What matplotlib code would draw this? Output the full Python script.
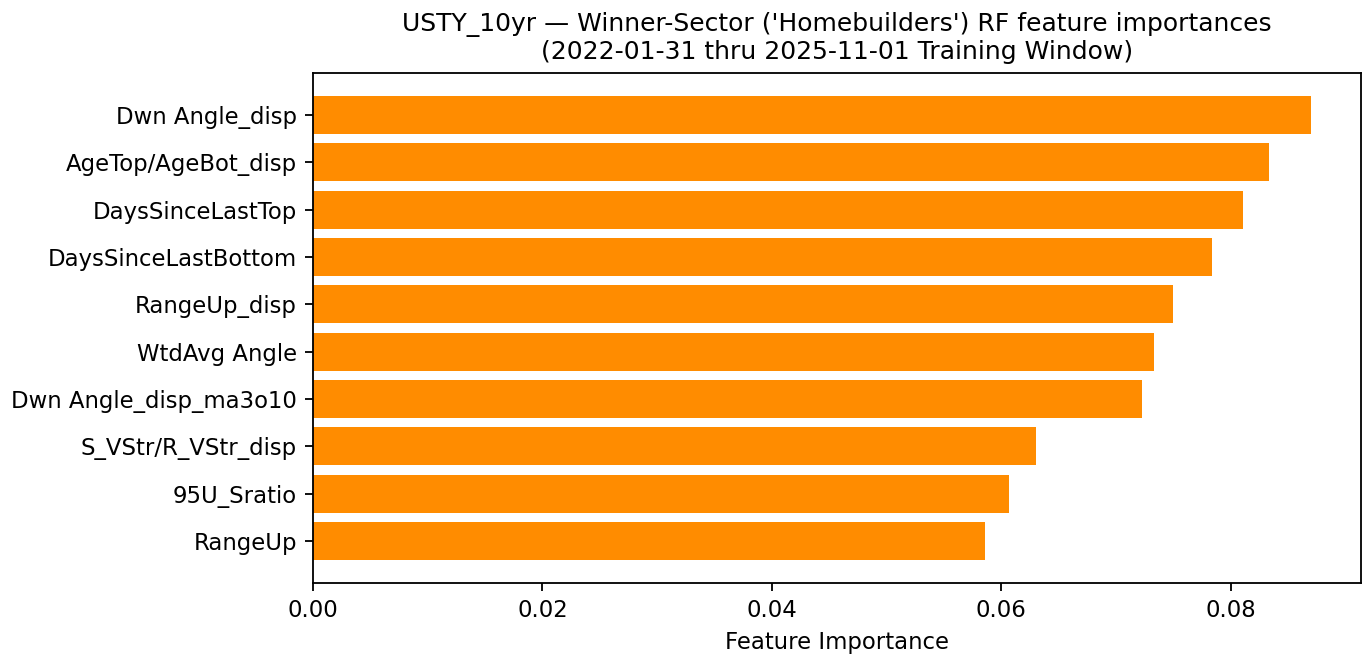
import matplotlib
matplotlib.use("Agg")
import matplotlib.pyplot as plt

features = ["Dwn Angle_disp", "AgeTop/AgeBot_disp", "DaysSinceLastTop", "DaysSinceLastBottom",
            "RangeUp_disp", "WtdAvg Angle", "Dwn Angle_disp_ma3o10", "S_VStr/R_VStr_disp",
            "95U_Sratio", "RangeUp"]
importances = [0.0870, 0.0833, 0.0811, 0.0784, 0.0750, 0.0733, 0.0723, 0.0630, 0.0607, 0.0586]

DPI = 164
fig = plt.figure(figsize=(1362 / DPI, 656 / DPI), dpi=DPI)
ax = fig.add_axes([313 / 1362, 1 - 583 / 656, (1361 - 313) / 1362, (583 - 73) / 656])

# plot largest at top
ax.barh(features[::-1], importances[::-1], color="darkorange")
ax.set_xlabel("Feature Importance")
ax.set_title("USTY_10yr \u2014 Winner-Sector ('Homebuilders') RF feature importances\n"
             "(2022-01-31 thru 2025-11-01 Training Window)", fontsize=11)

fig.savefig("out.png", dpi=DPI)
